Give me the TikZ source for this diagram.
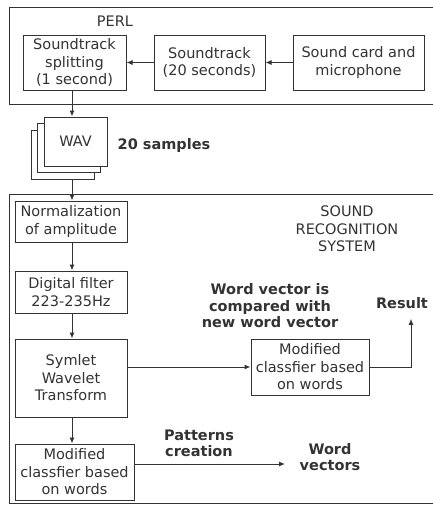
\documentclass[tikz,border=0pt]{standalone}
\usepackage{fontspec}
\setmainfont{DejaVu Sans}
\usetikzlibrary{arrows.meta}
\definecolor{ink}{HTML}{333333}
\begin{document}
\begin{tikzpicture}[x=1pt,y=-1pt,
  every node/.style={text=ink,font=\fontsize{14.5}{17.5}\selectfont,align=center,inner sep=0pt},
  box/.style={draw=ink,line width=1pt,fill=white,minimum width=#1},
  lbl/.style={font=\fontsize{14.5}{16.5}\selectfont\bfseries},
  arr/.style={draw=ink,line width=1pt,-{Latex[length=6pt,width=5pt]}},
  frame/.style={draw=ink,line width=1pt}]
\useasboundingbox (0,0) rectangle (433,506);
\clip (0,0) rectangle (433,506);
\fill[white] (0,0) rectangle (433,506);
\coordinate (colx) at (72,0);
% PERL frame
\draw[frame] (9,7) rectangle (440,104);
\node (perl) at (115,21) {PERL};
\node[box=103,minimum height=55] (split) at (74.5,62.5) {Soundtrack\\splitting\\(1 second)};
\node[box=111,minimum height=55] (st20) at (209.5,62.5) {Soundtrack\\(20 seconds)};
\node[box=131,minimum height=55] (card) at (358.5,62.5) {Sound card and\\microphone};
\draw[arr] (card.west) -- (st20.east);
\draw[arr] (st20.west) -- (split.east);
% WAV stack
\node[box=63,minimum height=49] (wav3) at (62.5,154.5) {};
\node[box=63,minimum height=49] (wav2) at (69,148) {};
\node[box=63,minimum height=49] (wav) at (75.5,141.5) {WAV};
\node[lbl] (samples) at (164,145) {20 samples};
\draw[arr] (split.south -| colx) -- (wav.north -| colx);
% Sound recognition frame
\draw[frame] (9,194) rectangle (440,503);
\node (srs) at (347,229) {SOUND\\RECOGNITION\\SYSTEM};
\node[box=112,minimum height=41] (norm) at (71,221.5) {Normalization\\of amplitude};
\node[box=112,minimum height=42] (filt) at (71,292) {Digital filter\\223-235Hz};
\node[box=112,minimum height=78] (sym) at (71,378) {Symlet\\Wavelet\\Transform};
\node[box=119,minimum height=56] (cls2) at (74.5,472) {Modified\\classfier based\\on words};
\node[box=118,minimum height=56] (cls1) at (310,367) {Modified\\classfier based\\on words};
\node[lbl] (cmp) at (270,306) {Word vector is\\compared with\\new word vector};
\node[lbl,inner sep=1pt] (res) at (402,303) {Result};
\node[lbl] (pat) at (199,443.5) {Patterns\\creation};
\node[lbl] (wv) at (330,457) {Word\\vectors};
\coordinate (resx) at (411,0);
\coordinate (wvend) at (285,464);
\draw[arr] (wav3.south -| colx) -- (norm.north -| colx);
\draw[arr] (norm.south -| colx) -- (filt.north -| colx);
\draw[arr] (filt.south -| colx) -- (sym.north -| colx);
\draw[arr] (sym.south -| colx) -- (cls2.north -| colx);
\draw[arr] (cls1.west -| sym.east) -- (cls1.west);
\draw[arr] (cls1.east) -| ([yshift=-9pt]resx |- res.south);
\draw[arr] (cls2.east |- wvend) -- (wvend);
\end{tikzpicture}
\end{document}
